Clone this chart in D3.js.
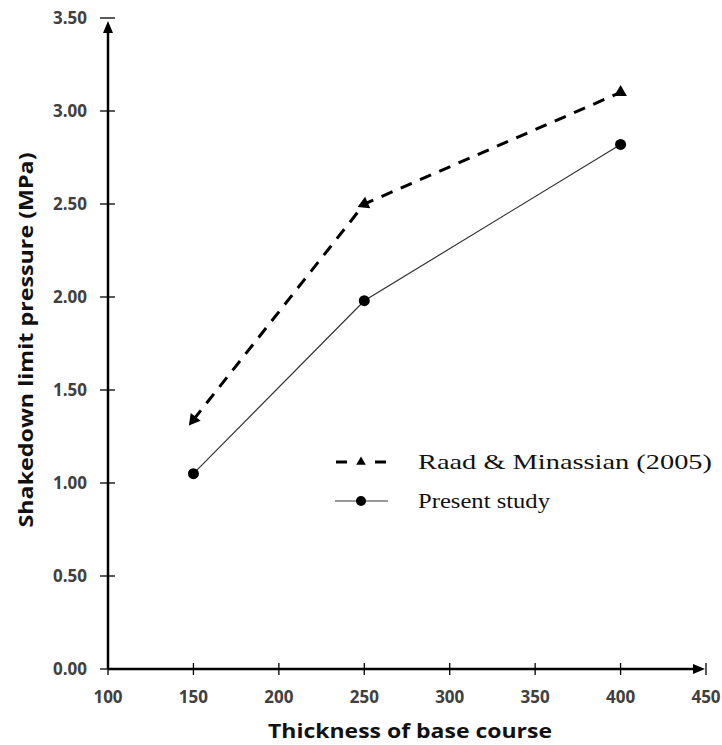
<!DOCTYPE html>
<meta charset="utf-8">
<title>Shakedown limit pressure</title>
<script src="https://d3js.org/d3.v7.min.js"></script>
<style>
  body { margin: 0; background: #fff; }
  text.tick-label { font-family: "Open Sans", sans-serif; font-size: 17px; font-weight: 700; fill: #404040; }
  text.axis-title { font-family: "Open Sans", sans-serif; font-weight: 700; fill: #111; }
  text.legend { font-family: "Liberation Serif", "Times New Roman", serif; font-size: 22px; fill: #111; }
</style>
<div id="chart"></div>
<script>
// data
var thickness = [150, 250, 400];
var raad = [1.34, 2.50, 3.10];
var present = [1.05, 1.98, 2.82];
var xTicks = [100, 150, 200, 250, 300, 350, 400, 450];
var yTicks = [0, 0.5, 1, 1.5, 2, 2.5, 3, 3.5];
var seriesNames = ["Raad & Minassian (2005)", "Present study"];

var W = 722, H = 745;

var svg = d3.select("#chart")
  .append("svg")
    .attr("width", W)
    .attr("height", H);

var x = d3.scaleLinear().domain([100, 450]).range([108, 706]);
var y = d3.scaleLinear().domain([0, 3.5]).range([669, 18]);

// axes: heavy lines with arrow heads, ticks crossing the line
var axisG = svg.append("g").attr("stroke", "#000");
axisG.append("line")
  .attr("x1", x(100)).attr("x2", x(450) - 8)
  .attr("y1", y(0)).attr("y2", y(0))
  .attr("stroke-width", 2.5);
axisG.append("line")
  .attr("x1", x(100)).attr("x2", x(100))
  .attr("y1", y(0)).attr("y2", y(3.5) + 10)
  .attr("stroke-width", 2.5);

// arrow heads
svg.append("path")
  .attr("d", "M" + (x(450) - 1) + "," + y(0) + " l-12,-5 l0,10 z")
  .attr("fill", "#000");
svg.append("path")
  .attr("d", "M" + x(100) + "," + (y(3.5) + 3) + " l-5,12 l10,0 z")
  .attr("fill", "#000");

svg.selectAll(".xtick")
  .data(xTicks)
  .enter().append("line")
  .attr("x1", d => x(d)).attr("x2", d => x(d))
  .attr("y1", y(0) - 6).attr("y2", y(0) + 6)
  .attr("stroke", "#000").attr("stroke-width", 1.3);

svg.selectAll(".ytick")
  .data(yTicks)
  .enter().append("line")
  .attr("x1", x(100) - 8).attr("x2", x(100) + 7)
  .attr("y1", d => y(d)).attr("y2", d => y(d))
  .attr("stroke", "#000").attr("stroke-width", 1.3);

svg.selectAll(".xlab")
  .data(xTicks)
  .enter().append("text")
  .attr("class", "tick-label")
  .attr("x", d => x(d))
  .attr("y", y(0) + 34)
  .attr("text-anchor", "middle")
  .text(d => d);

svg.selectAll(".ylab")
  .data(yTicks)
  .enter().append("text")
  .attr("class", "tick-label")
  .attr("x", 87)
  .attr("y", d => y(d) + 6)
  .attr("text-anchor", "end")
  .text(d => d3.format(".2f")(d));

// axis titles
svg.append("text")
  .attr("class", "axis-title")
  .attr("x", 410)
  .attr("y", 738)
  .attr("text-anchor", "middle")
  .attr("font-size", 20)
  .attr("textLength", 284)
  .attr("lengthAdjust", "spacingAndGlyphs")
  .text("Thickness of base course");

svg.append("text")
  .attr("class", "axis-title")
  .attr("transform", "translate(33,340) rotate(-90)")
  .attr("text-anchor", "middle")
  .attr("font-size", 19)
  .attr("textLength", 375)
  .attr("lengthAdjust", "spacingAndGlyphs")
  .text("Shakedown limit pressure (MPa)");

// series
var raadPts = thickness.map((t, i) => [t, raad[i]]);
var presentPts = thickness.map((t, i) => [t, present[i]]);
var line = d3.line().x(d => x(d[0])).y(d => y(d[1]));

svg.append("path")
  .attr("d", line(raadPts))
  .attr("fill", "none")
  .attr("stroke", "#000")
  .attr("stroke-width", 3)
  .attr("stroke-dasharray", "12,9");

svg.append("path")
  .attr("d", line(presentPts))
  .attr("fill", "none")
  .attr("stroke", "#333")
  .attr("stroke-width", 1.2);

// triangle markers point along the dashed line (last one points up)
var tri = d3.symbol().type(d3.symbolTriangle).size(70);
svg.selectAll(".raadMark")
  .data(raadPts)
  .enter().append("path")
  .attr("d", tri)
  .attr("fill", "#000")
  .attr("transform", function(d, i) {
    var ang = 0;
    if (i < raadPts.length - 1) {
      var n = raadPts[i + 1];
      var dx = x(d[0]) - x(n[0]), dy = y(d[1]) - y(n[1]);
      ang = Math.atan2(dy, dx) * 180 / Math.PI + 90;
    }
    return "translate(" + x(d[0]) + "," + y(d[1]) + ") rotate(" + ang + ")";
  });

svg.selectAll(".presMark")
  .data(presentPts)
  .enter().append("circle")
  .attr("cx", d => x(d[0]))
  .attr("cy", d => y(d[1]))
  .attr("r", 5.5)
  .attr("fill", "#000");

// legend
var lg = svg.append("g");
lg.append("line")
  .attr("x1", 336).attr("x2", 386)
  .attr("y1", 462).attr("y2", 462)
  .attr("stroke", "#000").attr("stroke-width", 3)
  .attr("stroke-dasharray", "11,28");
lg.append("path")
  .attr("d", d3.symbol().type(d3.symbolTriangle).size(40))
  .attr("transform", "translate(361,462)")
  .attr("fill", "#000");
lg.append("text")
  .attr("class", "legend")
  .attr("x", 418).attr("y", 469)
  .attr("textLength", 294)
  .attr("lengthAdjust", "spacingAndGlyphs")
  .text(seriesNames[0]);

lg.append("line")
  .attr("x1", 335).attr("x2", 388)
  .attr("y1", 501).attr("y2", 501)
  .attr("stroke", "#333").attr("stroke-width", 1.2);
lg.append("circle")
  .attr("cx", 361).attr("cy", 501).attr("r", 5)
  .attr("fill", "#000");
lg.append("text")
  .attr("class", "legend")
  .attr("x", 418).attr("y", 508)
  .attr("textLength", 132)
  .attr("lengthAdjust", "spacingAndGlyphs")
  .text(seriesNames[1]);
</script>
